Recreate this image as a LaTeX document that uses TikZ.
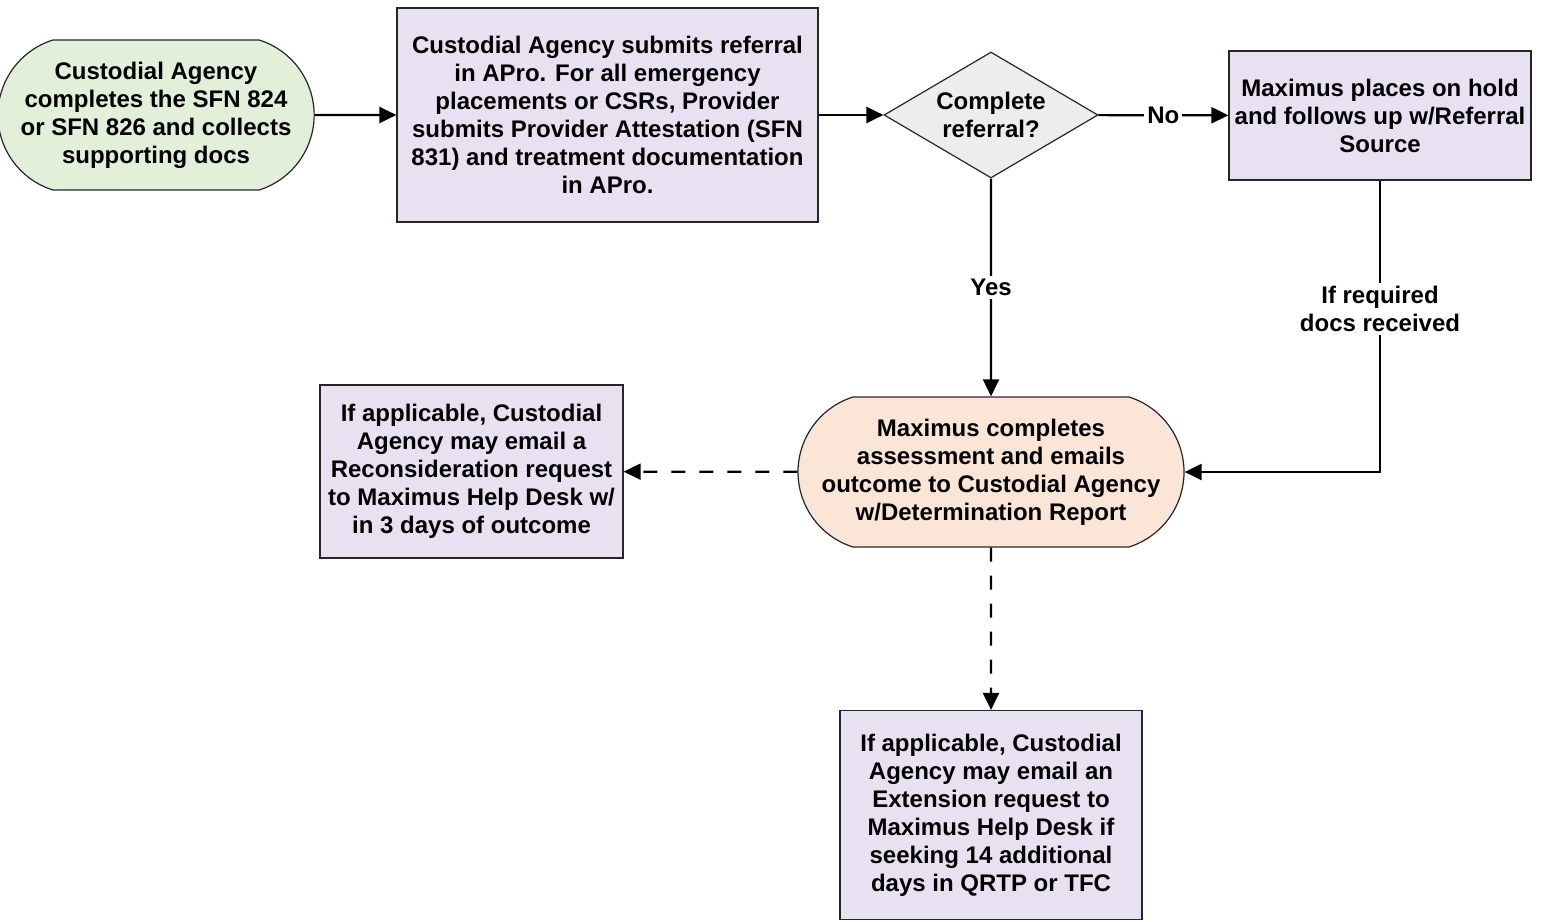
\documentclass[tikz,border=0pt]{standalone}
\usepackage{fontspec}
\setmainfont{Liberation Sans}
\usetikzlibrary{shapes.geometric,shapes.misc,arrows.meta}
\definecolor{startgreen}{RGB}{226,239,217}
\definecolor{boxlilac}{RGB}{232,225,242}
\definecolor{endorange}{RGB}{251,229,214}
\definecolor{diagrey}{RGB}{237,237,237}
\tikzset{
  base/.style={draw=black!85, line width=0.6pt, align=center, font=\bfseries\fontsize{12}{14}\selectfont, inner sep=1pt},
  terminal/.style={base, rounded rectangle, rounded rectangle arc length=145, minimum height=75pt},
  procbox/.style={base, rectangle, fill=boxlilac},
  decision/.style={base, diamond, fill=diagrey, aspect=1.7, minimum width=107pt, minimum height=63pt, inner sep=0pt},
  flow/.style={line width=1.1pt, -{Triangle[length=8.5pt,width=8pt]}},
  optflow/.style={flow, dash pattern=on 7pt off 7pt},
  tag/.style={fill=white, align=center, inner sep=1.5pt, font=\bfseries\fontsize{12}{14}\selectfont}
}
\begin{document}
\begin{tikzpicture}[x=0.5pt,y=-0.5pt]
\useasboundingbox (0,0) rectangle (1545,921);
% top row
\node[terminal, fill=startgreen, minimum width=154pt] (start) at (156,115) {Custodial Agency\\completes the SFN 824\\or SFN 826 and collects\\supporting docs};
\node[procbox, minimum width=210.5pt, minimum height=107pt] (submit) at (607.5,115) {Custodial Agency submits referral\\in APro. For all emergency\\placements or CSRs, Provider\\submits Provider Attestation (SFN\\831) and treatment documentation\\in APro.};
\node[decision] (check) at (991,115) {Complete\\referral?};
\node[procbox, minimum width=151pt, minimum height=64.5pt] (hold) at (1380,115.5) {Maximus places on hold\\and follows up w/Referral\\Source};
% middle and bottom
\node[terminal, fill=endorange, minimum width=195pt] (assess) at (991,472) {Maximus completes\\assessment and emails\\outcome to Custodial Agency\\w/Determination Report};
\node[procbox, minimum width=151.5pt, minimum height=86.5pt] (recon) at (471.5,471.5) {If applicable, Custodial\\Agency may email a\\Reconsideration request\\to Maximus Help Desk w/\\in 3 days of outcome};
\node[procbox, minimum width=151pt, minimum height=104.5pt] (extend) at (991,815) {If applicable, Custodial\\Agency may email an\\Extension request to\\Maximus Help Desk if\\seeking 14 additional\\days in QRTP or TFC};
% connectors
\draw[flow] (start) -- (submit);
\draw[flow] (submit) -- (check);
\draw[flow] (check) -- node[tag]{No} (hold);
\draw[flow] (check) -- node[tag]{Yes} (assess);
\draw[flow] (hold.south) |- node[tag, pos=0.22]{If required\\docs received} (assess.east);
\draw[optflow] (assess) -- (recon);
\draw[optflow] (assess) -- (extend);
\end{tikzpicture}
\end{document}
